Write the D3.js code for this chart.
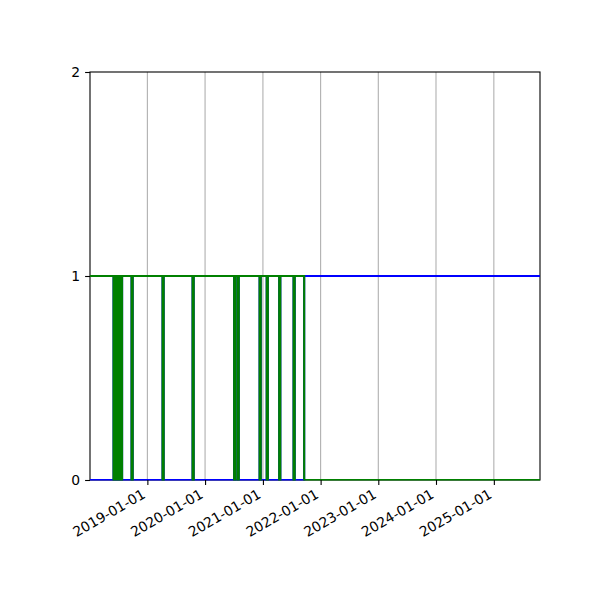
<!DOCTYPE html>
<html><head><meta charset="utf-8">
<script src="https://cdn.jsdelivr.net/npm/d3@7"></script>
<style>body{margin:0;background:#fff;} svg{display:block;font-family:"DejaVu Sans",sans-serif;}</style>
</head><body>
<svg id="c" width="600" height="600"></svg>
<script>
// ---- data ----
const dateStrings = [
  "2018-01-03","2018-06-01","2018-06-08","2018-06-12","2018-06-20","2018-06-24","2018-07-02",
  "2018-07-06","2018-07-14","2018-07-18","2018-07-25",
  "2018-09-23","2018-09-30",
  "2019-04-07","2019-04-14",
  "2019-10-14","2019-10-21",
  "2020-07-03","2020-07-10",
  "2020-07-25","2020-08-01",
  "2020-12-11","2020-12-18",
  "2021-01-25","2021-02-01",
  "2021-04-14","2021-04-21",
  "2021-07-14","2021-07-21",
  "2021-09-19","2025-10-20"
];
const greenValues = [1,0,1,0,1,0,1,0,1,0,1, 0,1, 0,1, 0,1, 0,1, 0,1, 0,1, 0,1, 0,1, 0,1, 0,0];
const blueValues  = [0,1,0,1,0,1,0,1,0,1,0, 1,0, 1,0, 1,0, 1,0, 1,0, 1,0, 1,0, 1,0, 1,0, 1,1];
const xDomain = ["2018-01-03","2025-10-20"];
const xTickLabels = ["2019-01-01","2020-01-01","2021-01-01","2022-01-01","2023-01-01","2024-01-01","2025-01-01"];
const yTicks = [0,1,2];

// ---- layout ----
const L = 90, R = 540, T = 72, B = 480;
const parse = d3.utcParse("%Y-%m-%d");
const fmt = d3.utcFormat("%Y-%m-%d");
const svg = d3.select("#c");
const x = d3.scaleUtc().domain(xDomain.map(parse)).range([L, R]);
const y = d3.scaleLinear().domain([0, 2]).range([B, T]);
const tickDates = xTickLabels.map(parse);

// grid
svg.append("g").selectAll("line").data(tickDates).join("line")
  .attr("x1", d => x(d)).attr("x2", d => x(d)).attr("y1", T).attr("y2", B)
  .attr("stroke", "#b0b0b0").attr("stroke-width", 1.1);

// frame
svg.append("rect").attr("x", L).attr("y", T).attr("width", R - L).attr("height", B - T)
  .attr("fill", "none").attr("stroke", "#000").attr("stroke-width", 1.1);

svg.append("defs").append("clipPath").attr("id", "clip")
  .append("rect").attr("x", L).attr("y", T).attr("width", R - L).attr("height", B - T + 0.4);

const dates = dateStrings.map(parse);
const line = d3.line().curve(d3.curveStepAfter).x(d => x(d[0])).y(d => y(d[1]));
const plot = svg.append("g").attr("clip-path", "url(#clip)");
plot.append("path").datum(dates.map((d, i) => [d, blueValues[i]]))
  .attr("d", line).attr("fill", "none").attr("stroke", "#0000ff").attr("stroke-width", 2.1);
plot.append("path").datum(dates.map((d, i) => [d, greenValues[i]]))
  .attr("d", line).attr("fill", "none").attr("stroke", "#008000").attr("stroke-width", 2.1);

// x axis
const xAxis = svg.append("g").attr("transform", `translate(0,${B})`)
  .call(d3.axisBottom(x).tickValues(tickDates).tickFormat(fmt).tickSize(4.9).tickPadding(4.9));
xAxis.select(".domain").remove();
xAxis.selectAll(".tick line").attr("stroke", "#000").attr("stroke-width", 1.1);
xAxis.selectAll(".tick text")
  .attr("font-size", 13.9).attr("font-family", "DejaVu Sans").attr("fill", "#000")
  .attr("text-anchor", "end").attr("dy", null).attr("y", null)
  .attr("transform", "translate(-1.5,17) rotate(-30)");

// y axis
const yAxis = svg.append("g").attr("transform", `translate(${L},0)`)
  .call(d3.axisLeft(y).tickValues(yTicks).tickFormat(d3.format("d")).tickSize(4.9).tickPadding(4.9));
yAxis.select(".domain").remove();
yAxis.selectAll(".tick line").attr("stroke", "#000").attr("stroke-width", 1.1);
yAxis.selectAll(".tick text").attr("font-size", 13.9).attr("font-family", "DejaVu Sans").attr("fill", "#000");
</script>
</body></html>
